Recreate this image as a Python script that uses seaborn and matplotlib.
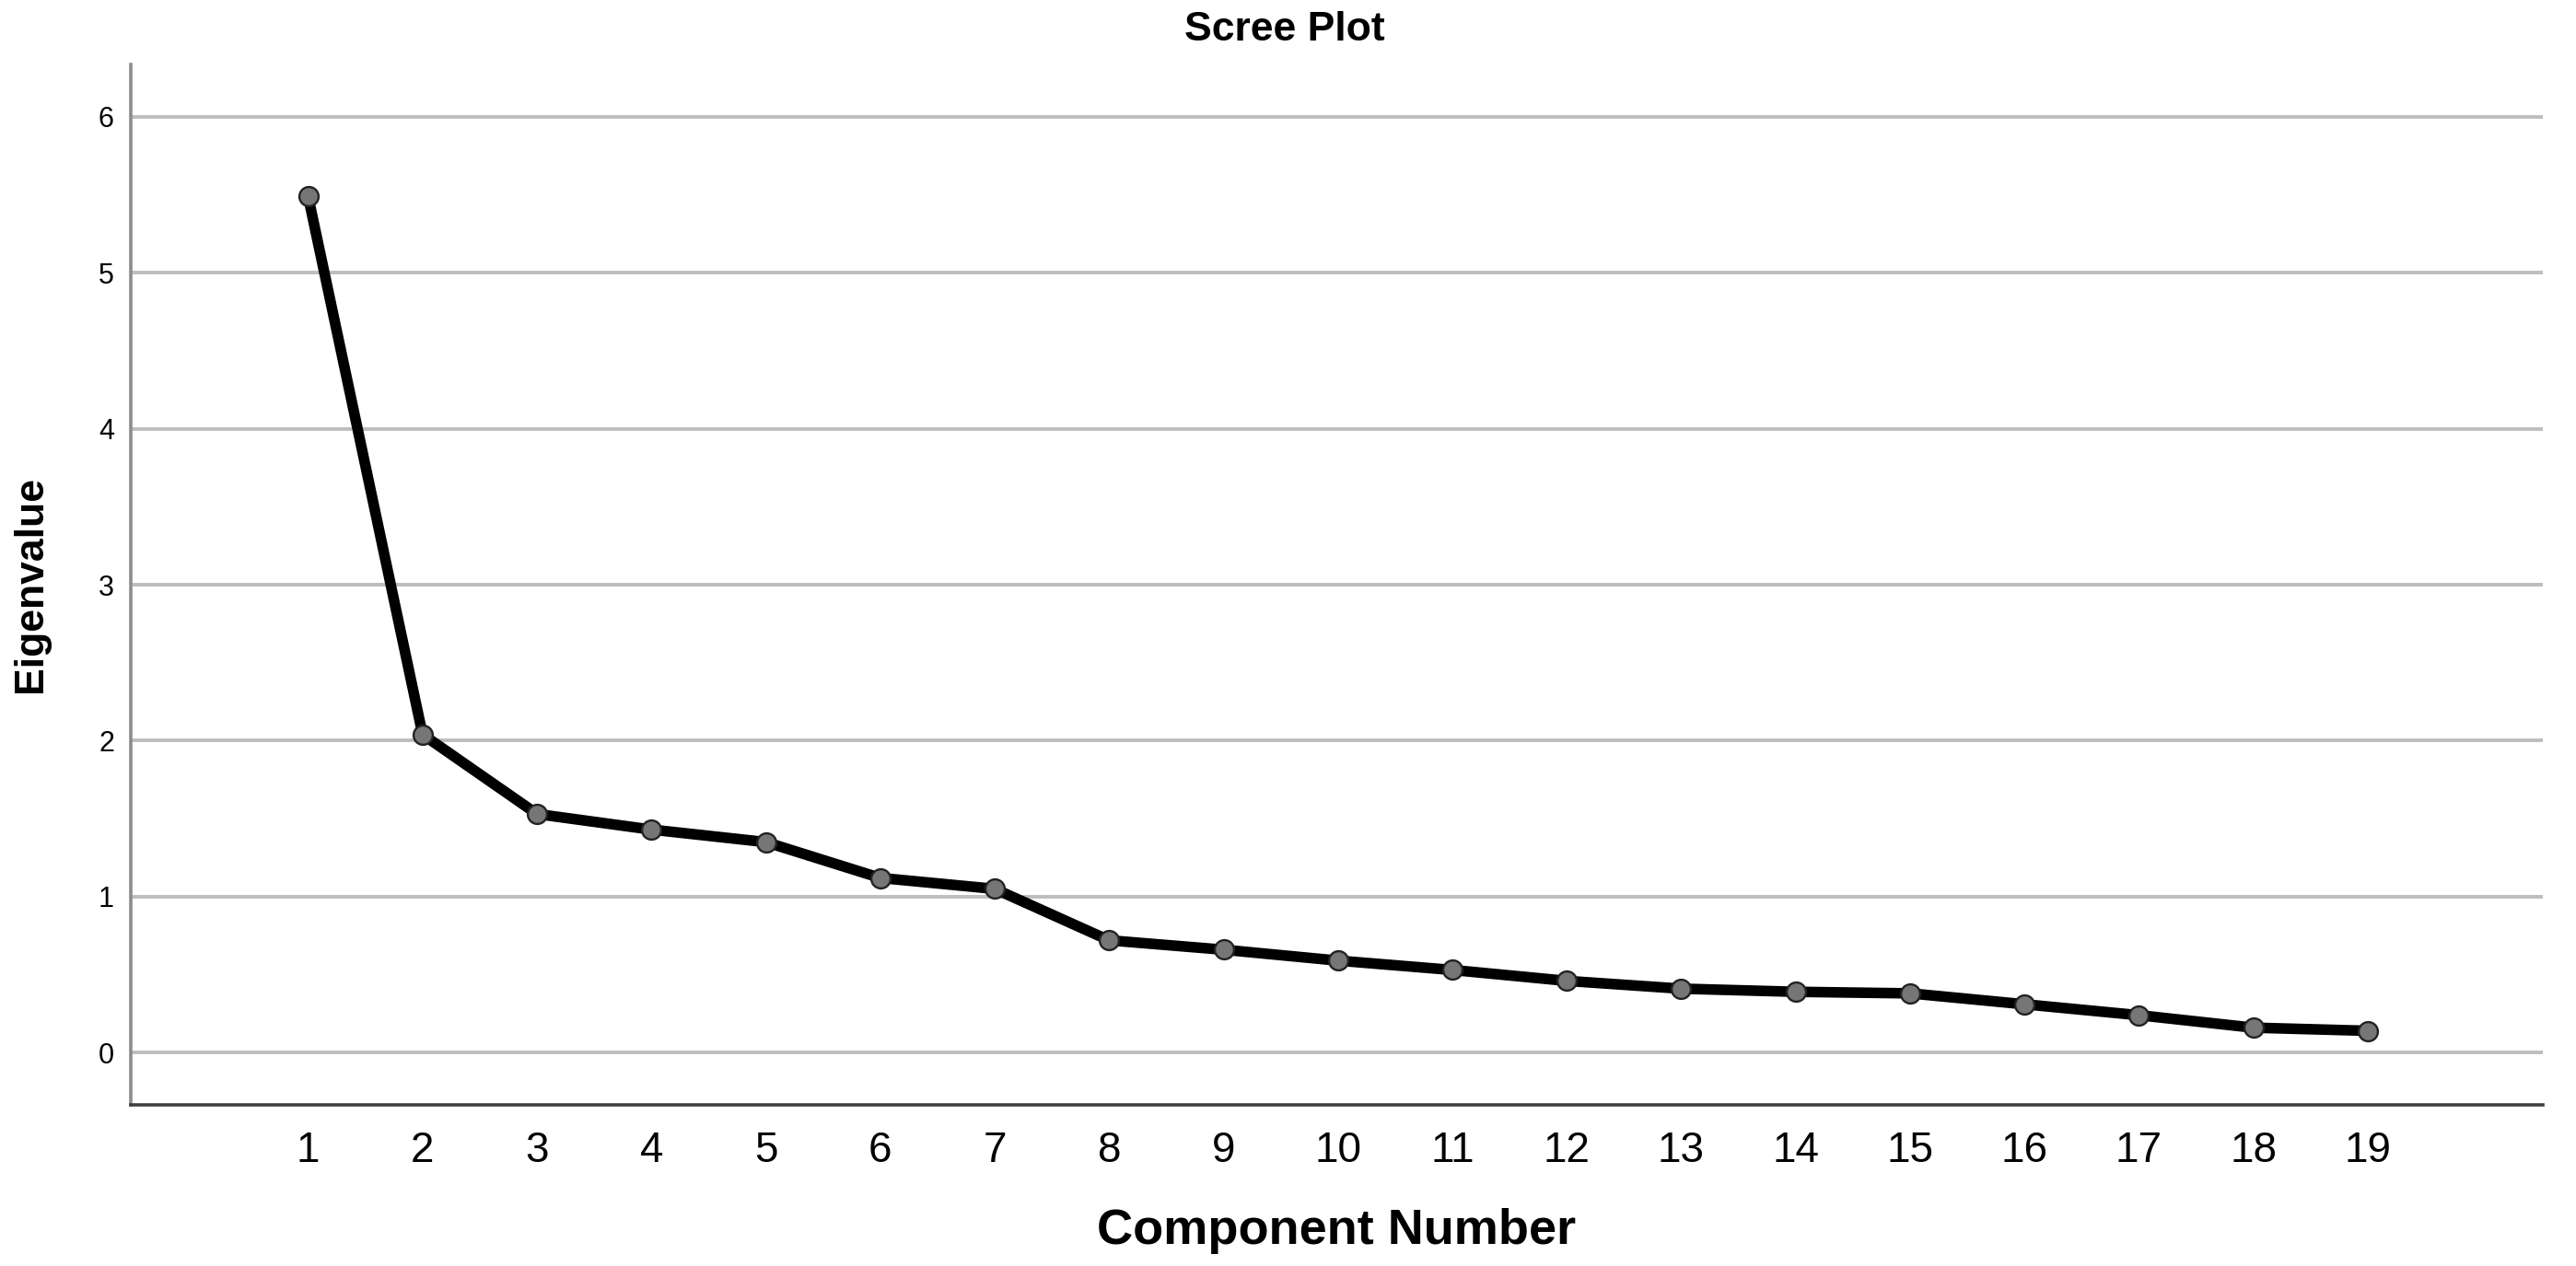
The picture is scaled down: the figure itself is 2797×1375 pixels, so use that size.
import matplotlib
matplotlib.use("Agg")
import matplotlib.pyplot as plt
import seaborn as sns
import pandas as pd

# ---- data ----
components = [1, 2, 3, 4, 5, 6, 7, 8, 9, 10, 11, 12, 13, 14, 15, 16, 17, 18, 19]
eigenvalues = [5.49, 2.04, 1.53, 1.43, 1.35, 1.12, 1.05, 0.72, 0.66, 0.59,
               0.53, 0.46, 0.41, 0.39, 0.38, 0.31, 0.24, 0.16, 0.14]
y_ticks = [0, 1, 2, 3, 4, 5, 6]
title = "Scree Plot"
x_label = "Component Number"
y_label = "Eigenvalue"

sns.set_theme(style="white")
plt.rcParams['font.family'] = ['Liberation Sans', 'DejaVu Sans']

df = pd.DataFrame({"Component": components, "Eigenvalue": eigenvalues})

W, H = 2797, 1375
fig = plt.figure(figsize=(W / 100, H / 100), dpi=100)
ax = fig.add_axes([142 / W, 1 - 1200 / H, (2761 - 142) / W, (1200 - 70) / H])

sns.lineplot(data=df, x="Component", y="Eigenvalue", ax=ax,
             color="black", linewidth=8.3, marker="o", markersize=15,
             markerfacecolor="#767676", markeredgecolor="#222222",
             markeredgewidth=1.7, zorder=5)

ax.set_xlim(-0.55, 20.53)
ax.set_ylim(-0.335, 6.336)
ax.set_xticks(components)
ax.set_xticklabels([str(c) for c in components])
ax.set_yticks(y_ticks)
ax.set_yticklabels([str(t) for t in y_ticks])

ax.grid(False)
for t in y_ticks:
    ax.axhline(t, color="#bdbdbd", linewidth=2.8, zorder=1)

for s in ["top", "right"]:
    ax.spines[s].set_visible(False)
ax.spines["left"].set_color("#8c8c8c")
ax.spines["left"].set_linewidth(2.6)
ax.spines["bottom"].set_color("#404040")
ax.spines["bottom"].set_linewidth(2.6)

ax.tick_params(axis="x", length=0, pad=20, labelsize=33, labelcolor="black")
ax.tick_params(axis="y", length=0, pad=13, labelsize=22, labelcolor="black")

ax.set_xlabel(x_label, fontsize=39, fontweight="bold", color="black")
ax.set_ylabel(y_label, fontsize=32, fontweight="bold", color="black")
ax.xaxis.label.set_va("center")
ax.yaxis.label.set_va("center")
ax.xaxis.set_label_coords(0.5, -(1337 - 1200) / 1130)
ax.yaxis.set_label_coords(-(142 - 34) / 2619, 0.5)

fig.text(1395 / W, 1 - 32 / H, title, ha="center", va="center",
         fontsize=32, fontweight="bold", color="black")

fig.savefig("out.png", dpi=100, facecolor="white")
